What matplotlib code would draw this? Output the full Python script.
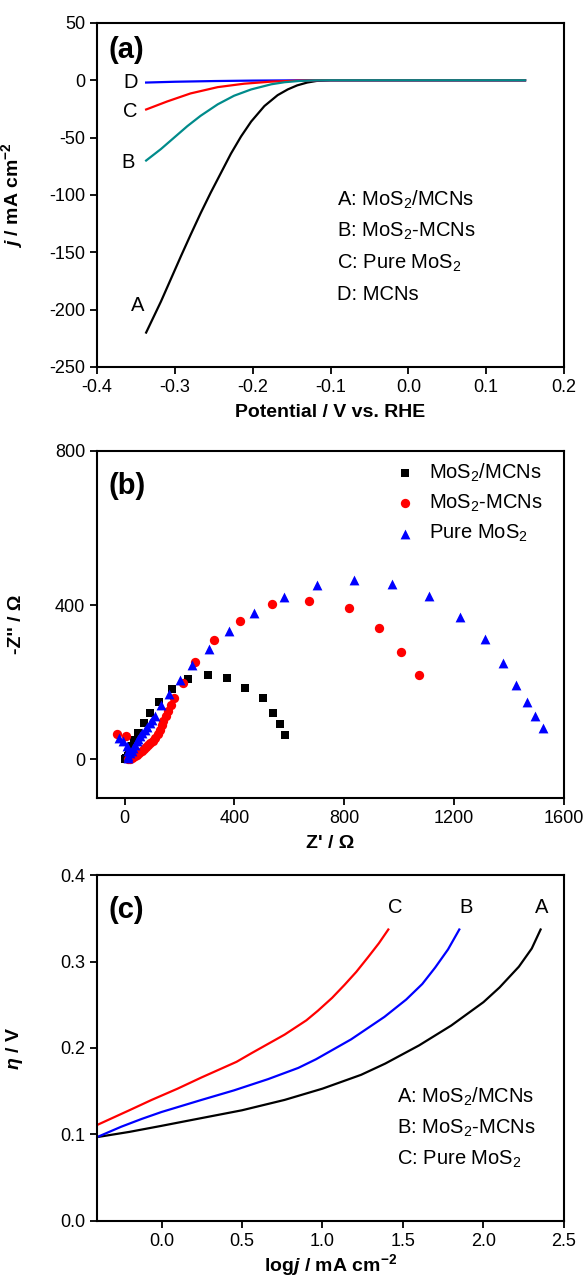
import numpy as np
import matplotlib
matplotlib.use("Agg")
import matplotlib.pyplot as plt

plt.rcParams['font.family'] = ['Liberation Sans', 'DejaVu Sans']
plt.rcParams['mathtext.fontset'] = 'custom'
plt.rcParams['mathtext.rm'] = 'Liberation Sans'
plt.rcParams['mathtext.it'] = 'Liberation Sans:italic:bold'
plt.rcParams['mathtext.bf'] = 'Liberation Sans:bold'
plt.rcParams['mathtext.default'] = 'regular'
plt.rcParams['axes.unicode_minus'] = False

# ---- (a) polarization curves ----
potA = [-0.337, -0.318, -0.305, -0.292, -0.280, -0.267, -0.254, -0.241, -0.228, -0.215,
        -0.202, -0.185, -0.168, -0.155, -0.143, -0.130, -0.118, -0.100, -0.080, 0.0, 0.15]
jA = [-220, -193, -173, -153, -135, -116, -98, -81, -64, -49,
      -36, -22.5, -13, -8, -4.5, -2, -0.6, 0, 0, 0, 0]
potB = [-0.337, -0.318, -0.301, -0.284, -0.267, -0.245, -0.224, -0.202, -0.176, -0.159,
        -0.140, -0.120, -0.100, -0.080, 0.0, 0.15]
jB = [-70, -60, -50, -40, -31, -21, -13.5, -8, -3.5, -1.7, -0.6, -0.1, 0, 0, 0, 0]
potC = [-0.337, -0.310, -0.280, -0.245, -0.211, -0.176, -0.140, -0.110, -0.080, 0.0, 0.15]
jC = [-25.5, -18.5, -11.5, -6, -3, -1.2, -0.3, 0, 0, 0, 0]
potD = [-0.337, -0.300, -0.250, -0.200, -0.150, -0.100, 0.0, 0.15]
jD = [-2, -1.3, -0.7, -0.3, -0.1, 0, 0, 0]

# ---- (b) Nyquist plots ----
zre_A = [586, 565, 539, 504, 440, 374, 302, 230, 171, 125, 94, 72, 50, 36, 26, 17, 11, 6, 3]
zim_A = [63, 91, 121, 158, 186, 212, 220, 209, 183, 149, 120, 94, 68, 51, 34, 19, 8, 3, 1]
zre_B = [-28, 4, 14, 20, 26, 32, 38, 46, 54, 62, 70, 78, 86, 94, 102, 111, 120, 129, 135, 141,
         150, 159, 170, 181, 214, 256, 324, 421, 537, 672, 818, 926, 1008, 1072]
zim_B = [66, 60, 0, 2, 4, 6, 8, 12, 16, 21, 26, 32, 38, 43, 49, 55, 65, 77, 88, 99,
         112, 126, 142, 159, 197, 252, 309, 360, 403, 411, 393, 340, 279, 220]
zre_C = [-22, -4, 8, 11, 13, 14, 20, 26, 32, 38, 44, 50, 56, 65, 74, 83, 92, 101, 111, 132,
         161, 201, 247, 308, 381, 471, 579, 702, 835, 975, 1109, 1220, 1311, 1377, 1427,
         1464, 1495, 1525]
zim_C = [55, 47, 34, 21, 10, 3, 16, 23, 29, 38, 47, 53, 60, 68, 77, 85, 94, 103, 112, 142,
         170, 206, 244, 287, 334, 380, 422, 452, 465, 456, 424, 370, 311, 249, 194,
         149, 112, 82]

# ---- (c) Tafel plots ----
logjA = [-0.40, -0.20, 0.0, 0.166, 0.5, 0.765, 1.0, 1.24, 1.39, 1.6, 1.8, 2.0, 2.1, 2.22, 2.3, 2.355]
etaA = [0.097, 0.103, 0.110, 0.116, 0.128, 0.140, 0.153, 0.169, 0.182, 0.203, 0.226, 0.253,
        0.270, 0.294, 0.315, 0.337]
logjB = [-0.40, -0.25, -0.123, 0.0, 0.249, 0.45, 0.662, 0.85, 0.96, 1.178, 1.385, 1.52, 1.62,
         1.70, 1.78, 1.85]
etaB = [0.097, 0.109, 0.118, 0.126, 0.140, 0.151, 0.164, 0.177, 0.187, 0.210, 0.236, 0.256,
        0.274, 0.293, 0.314, 0.337]
logjC = [-0.40, -0.20, -0.061, 0.10, 0.249, 0.466, 0.559, 0.765, 0.90, 0.971, 1.06, 1.137,
         1.21, 1.281, 1.35, 1.409]
etaC = [0.111, 0.128, 0.140, 0.153, 0.166, 0.184, 0.194, 0.2155, 0.232, 0.243, 0.258, 0.273,
        0.288, 0.3045, 0.321, 0.337]

legend_labels = ['MoS$_2$/MCNs', 'MoS$_2$-MCNs', 'Pure MoS$_2$', 'MCNs']

fig = plt.figure(figsize=(5.85, 12.8), dpi=100)
axa = fig.add_axes([0.166, 0.7133, 0.798, 0.2688])
axb = fig.add_axes([0.166, 0.3766, 0.798, 0.2711])
axc = fig.add_axes([0.166, 0.0461, 0.798, 0.2703])

for ax in (axa, axb, axc):
    for s in ax.spines.values():
        s.set_linewidth(1.5)
    ax.tick_params(direction='out', length=5, width=1.3, labelsize=13, top=False, right=False)

lbl_font = dict(fontsize=14, fontweight='bold')
txt_size = 14.5

# (a)
axa.plot(potA, jA, color='black', lw=1.6)
axa.plot(potD, jD, color='#0000ff', lw=1.6)
axa.plot(potC, jC, color='#ff0000', lw=1.6)
axa.plot(potB, jB, color='#008b8b', lw=1.6)
axa.set_xlim(-0.4, 0.2)
axa.set_ylim(-250, 50)
xt = [-0.4, -0.3, -0.2, -0.1, 0.0, 0.1, 0.2]
axa.set_xticks(xt)
axa.set_xticklabels(['%.1f' % v for v in xt])
axa.set_yticks(np.arange(-250, 51, 50))
axa.set_xlabel('Potential / V vs. RHE', labelpad=6, **lbl_font)
axa.set_ylabel(r'$\mathit{j}$ / mA cm$^{-2}$', **lbl_font)
axa.yaxis.set_label_coords(-0.155, 0.5)
axa.text(0.025, 0.92, '(a)', transform=axa.transAxes, fontsize=21, fontweight='bold', va='center')
for lab, xx, yy in [('D', -0.357, -2), ('C', -0.358, -27), ('B', -0.36, -72), ('A', -0.348, -196)]:
    axa.text(xx, yy, lab, fontsize=txt_size, ha='center', va='center')
for i, lab in enumerate(['A', 'B', 'C', 'D']):
    axa.text(-0.092, -104 - 27.7 * i, lab + ': ' + legend_labels[i], fontsize=txt_size, va='center')

# (b)
axb.scatter(zre_A, zim_A, marker='s', s=38, color='black', linewidths=0, label=legend_labels[0], zorder=3)
axb.scatter(zre_B, zim_B, marker='o', s=45, color='#ff0000', linewidths=0, label=legend_labels[1], zorder=3)
axb.scatter(zre_C, zim_C, marker='^', s=50, color='#0000ff', linewidths=0, label=legend_labels[2], zorder=3)
axb.set_xlim(-100, 1600)
axb.set_ylim(-100, 800)
axb.set_xticks([0, 400, 800, 1200, 1600])
axb.set_yticks([0, 400, 800])
axb.set_xlabel("Z' / \u03a9", labelpad=6, **lbl_font)
axb.set_ylabel("-Z'' / \u03a9", **lbl_font)
axb.yaxis.set_label_coords(-0.155, 0.5)
axb.text(0.025, 0.90, '(b)', transform=axb.transAxes, fontsize=21, fontweight='bold', va='center')
axb.legend(loc='upper left', bbox_to_anchor=(0.64, 0.97), frameon=False, fontsize=14.5,
           borderpad=0, handlelength=0.9, handletextpad=0.75, labelspacing=0.45, borderaxespad=0)

# (c)
axc.plot(logjA, etaA, color='black', lw=1.6)
axc.plot(logjB, etaB, color='#0000ff', lw=1.6)
axc.plot(logjC, etaC, color='#ff0000', lw=1.6)
axc.set_xlim(-0.4, 2.5)
axc.set_ylim(0, 0.4)
xt = [0.0, 0.5, 1.0, 1.5, 2.0, 2.5]
axc.set_xticks(xt)
axc.set_xticklabels(['%.1f' % v for v in xt])
yt = [0.0, 0.1, 0.2, 0.3, 0.4]
axc.set_yticks(yt)
axc.set_yticklabels(['%.1f' % v for v in yt])
axc.set_xlabel(r'log$\mathit{j}$ / mA cm$^{-2}$', labelpad=2, **lbl_font)
axc.set_ylabel(r'$\mathit{\eta}$ / V', **lbl_font)
axc.yaxis.set_label_coords(-0.155, 0.5)
axc.text(0.025, 0.90, '(c)', transform=axc.transAxes, fontsize=21, fontweight='bold', va='center')
for lab, xx in [('C', 1.45), ('B', 1.89), ('A', 2.36)]:
    axc.text(xx, 0.363, lab, fontsize=txt_size, ha='center', va='center')
for i, lab in enumerate(['A', 'B', 'C']):
    axc.text(1.46, 0.143 - 0.0357 * i, lab + ': ' + legend_labels[i], fontsize=txt_size, va='center')

fig.savefig('out.png', dpi=100)
